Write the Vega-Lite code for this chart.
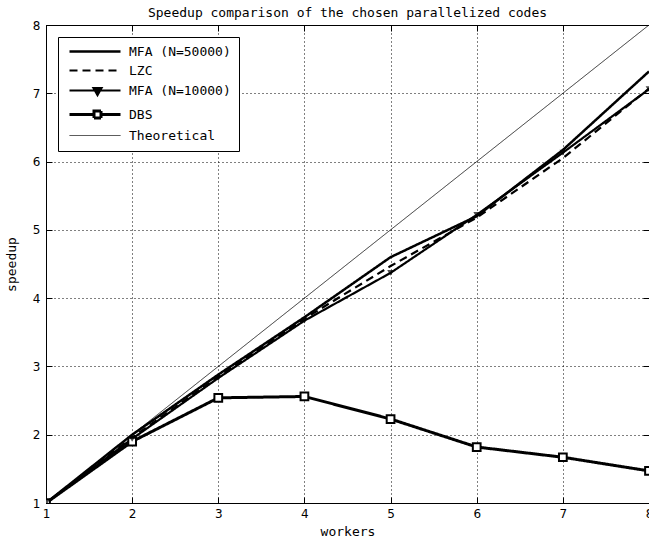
{
  "$schema": "https://vega.github.io/schema/vega-lite/v6.json",
  "autosize": {"type": "none"},
  "padding": {"left": 46, "top": 25, "right": 0, "bottom": 45},
  "width": 603,
  "height": 478,
  "background": "white",
  "title": {
    "text": "Speedup comparison of the chosen parallelized codes",
    "font": "DejaVu Sans Mono",
    "fontSize": 13,
    "fontWeight": "normal",
    "color": "black",
    "anchor": "middle",
    "offset": -1
  },
  "config": {
    "view": {"stroke": "black", "strokeWidth": 1},
    "axis": {
      "domainColor": "black",
      "tickColor": "black",
      "labelColor": "black",
      "titleColor": "black",
      "labelFont": "DejaVu Sans",
      "labelFontSize": 12,
      "titleFont": "DejaVu Sans Mono",
      "titleFontSize": 13,
      "titleFontWeight": "normal",
      "gridColor": "black",
      "gridOpacity": 1,
      "gridDash": [1, 3],
      "gridWidth": 1,
      "tickSize": -6,
      "tickWidth": 1
    }
  },
  "data": {
    "values": [
      {"series": "MFA (N=50000)", "workers": 1, "speedup": 1},
      {"series": "MFA (N=50000)", "workers": 2, "speedup": 2.0},
      {"series": "MFA (N=50000)", "workers": 3, "speedup": 2.88},
      {"series": "MFA (N=50000)", "workers": 4, "speedup": 3.72},
      {"series": "MFA (N=50000)", "workers": 5, "speedup": 4.6},
      {"series": "MFA (N=50000)", "workers": 6, "speedup": 5.2},
      {"series": "MFA (N=50000)", "workers": 7, "speedup": 6.17},
      {"series": "MFA (N=50000)", "workers": 8, "speedup": 7.32},
      {"series": "LZC", "workers": 1, "speedup": 1},
      {"series": "LZC", "workers": 2, "speedup": 1.96},
      {"series": "LZC", "workers": 3, "speedup": 2.85},
      {"series": "LZC", "workers": 4, "speedup": 3.7},
      {"series": "LZC", "workers": 5, "speedup": 4.47},
      {"series": "LZC", "workers": 6, "speedup": 5.18},
      {"series": "LZC", "workers": 7, "speedup": 6.05},
      {"series": "LZC", "workers": 8, "speedup": 7.07},
      {"series": "MFA (N=10000)", "workers": 1, "speedup": 1},
      {"series": "MFA (N=10000)", "workers": 2, "speedup": 1.94},
      {"series": "MFA (N=10000)", "workers": 3, "speedup": 2.83},
      {"series": "MFA (N=10000)", "workers": 4, "speedup": 3.67},
      {"series": "MFA (N=10000)", "workers": 5, "speedup": 4.37},
      {"series": "MFA (N=10000)", "workers": 6, "speedup": 5.22},
      {"series": "MFA (N=10000)", "workers": 7, "speedup": 6.13},
      {"series": "MFA (N=10000)", "workers": 8, "speedup": 7.06},
      {"series": "DBS", "workers": 1, "speedup": 1},
      {"series": "DBS", "workers": 2, "speedup": 1.9},
      {"series": "DBS", "workers": 3, "speedup": 2.54},
      {"series": "DBS", "workers": 4, "speedup": 2.56},
      {"series": "DBS", "workers": 5, "speedup": 2.23},
      {"series": "DBS", "workers": 6, "speedup": 1.82},
      {"series": "DBS", "workers": 7, "speedup": 1.67},
      {"series": "DBS", "workers": 8, "speedup": 1.47},
      {"series": "Theoretical", "workers": 1, "speedup": 1},
      {"series": "Theoretical", "workers": 2, "speedup": 2},
      {"series": "Theoretical", "workers": 3, "speedup": 3},
      {"series": "Theoretical", "workers": 4, "speedup": 4},
      {"series": "Theoretical", "workers": 5, "speedup": 5},
      {"series": "Theoretical", "workers": 6, "speedup": 6},
      {"series": "Theoretical", "workers": 7, "speedup": 7},
      {"series": "Theoretical", "workers": 8, "speedup": 8}
    ]
  },
  "layer": [
    {
      "mark": {"type": "line", "color": "black", "strokeJoin": "miter", "strokeCap": "butt", "clip": true},
      "encoding": {
        "x": {
          "field": "workers",
          "type": "quantitative",
          "scale": {"domain": [1, 8], "nice": false, "zero": false},
          "axis": {"orient": "bottom", "title": "workers", "values": [1,2,3,4,5,6,7,8], "grid": true, "labelPadding": 11, "titlePadding": 6, "labelFlush": false}
        },
        "y": {
          "field": "speedup",
          "type": "quantitative",
          "scale": {"domain": [1, 8], "nice": false, "zero": false},
          "axis": {"orient": "left", "title": "speedup", "values": [1,2,3,4,5,6,7,8], "grid": true, "labelPadding": 12, "titlePadding": 14}
        },
        "detail": {"field": "series"},
        "strokeDash": {
          "field": "series",
          "type": "nominal",
          "scale": {
            "domain": ["MFA (N=50000)", "LZC", "MFA (N=10000)", "DBS", "Theoretical"],
            "range": [[1, 0], [8, 5], [1, 0], [1, 0], [1, 0]]
          },
          "legend": {
            "title": null,
            "orient": "top-left",
            "offset": 12,
            "strokeColor": "black",
            "fillColor": "white",
            "padding": 8,
            "rowPadding": 5,
            "labelFont": "DejaVu Sans Mono",
            "labelFontSize": 13,
            "labelColor": "black",
            "labelOffset": 50,
            "symbolSize": 100,
            "symbolStrokeColor": "black",
            "symbolStrokeWidth": 2.5,
            "encode": {
              "symbols": {
                "update": {
                  "shape": {"signal": "datum.value === 'DBS' ? 'M-0.6,0H4.3M5.7,0H9.6M4.3,-0.7H5.7V0.7H4.3Z' : (datum.value === 'MFA (N=10000)' ? 'M-0.6,0H9.6M5,0.9L4.2,-0.5L5.8,-0.5Z' : 'M-0.6,0H9.6')"},
                  "fill": {"signal": "datum.value === 'MFA (N=10000)' ? 'black' : 'white'"},
                  "fillOpacity": {"value": 1},
                  "stroke": {"value": "black"},
                  "strokeWidth": {"signal": "datum.value === 'Theoretical' ? 1 : 2.5"}
                }
              }
            }
          }
        },
        "strokeWidth": {
          "field": "series",
          "type": "ordinal",
          "scale": {
            "type": "ordinal",
            "domain": ["MFA (N=50000)", "LZC", "MFA (N=10000)", "DBS", "Theoretical"],
            "range": [2.5, 2.2, 2.2, 3, 0.8]
          },
          "legend": null
        }
      }
    },
    {
      "transform": [{"filter": "datum.series === 'DBS'"}],
      "mark": {"type": "point", "shape": "square", "filled": false, "stroke": "black", "fill": "white", "fillOpacity": 1, "strokeWidth": 2, "size": 60, "clip": true},
      "encoding": {
        "x": {"field": "workers", "type": "quantitative", "axis": null},
        "y": {"field": "speedup", "type": "quantitative", "axis": null}
      }
    },
    {
      "transform": [{"filter": "datum.series === 'MFA (N=10000)'"}],
      "mark": {"type": "point", "shape": "triangle-down", "filled": true, "color": "black", "size": 45, "clip": true},
      "encoding": {
        "x": {"field": "workers", "type": "quantitative", "axis": null},
        "y": {"field": "speedup", "type": "quantitative", "axis": null}
      }
    },
    {
      "mark": {"type": "rule", "opacity": 0},
      "encoding": {
        "x": {"field": "workers", "type": "quantitative", "axis": {"orient": "top", "labels": false, "grid": false, "title": null, "values": [1,2,3,4,5,6,7,8], "domain": false}},
        "y": {"field": "speedup", "type": "quantitative", "axis": {"orient": "right", "labels": false, "grid": false, "title": null, "values": [1,2,3,4,5,6,7,8], "domain": false}}
      }
    }
  ],
  "resolve": {"axis": {"x": "independent", "y": "independent"}}
}
